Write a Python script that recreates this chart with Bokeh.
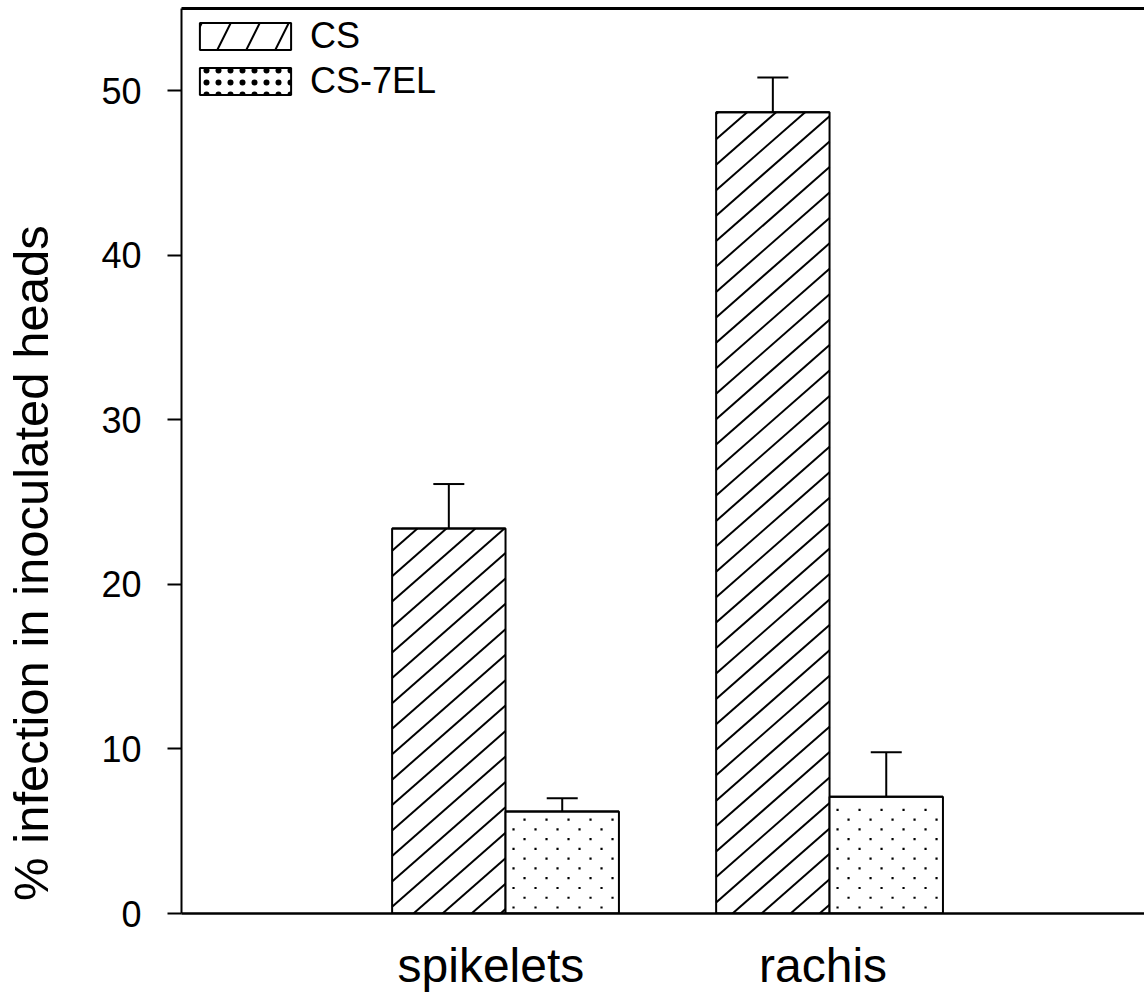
import math
from bokeh.plotting import figure
from bokeh.models import (ColumnDataSource, Range1d, FixedTicker, LinearAxis, Whisker,
                          TeeHead, Legend, LegendItem)
from bokeh.embed import file_html
from bokeh.resources import INLINE

# ---- data ----
categories = ["spikelets", "rachis"]
cs_values = [23.4, 48.7]
cs_errors = [2.7, 2.1]
cs7el_values = [6.2, 7.1]
cs7el_errors = [0.8, 2.7]
series_names = ["CS", "CS-7EL"]
y_ticks = [0, 10, 20, 30, 40, 50]
y_label = "% infection in inoculated heads"

FONT = "Liberation Sans"
bar_w = 0.35
group_x = [i + 1 for i in range(len(categories))]
label_shift = [-0.045, -0.02]

# ---- layout ----
W, H = 1144, 994
B_LEFT, B_RIGHT, B_TOP, B_BOTTOM = 181, 0, 8, 78
X_END, Y_END = 2.972, 55
px_per_x = (W - B_LEFT - B_RIGHT) / X_END
px_per_y = (H - B_TOP - B_BOTTOM) / Y_END

src_cs = ColumnDataSource(dict(
    x=[g - bar_w / 2 for g in group_x], top=cs_values,
    upper=[v + e for v, e in zip(cs_values, cs_errors)]))
src_el = ColumnDataSource(dict(
    x=[g + bar_w / 2 for g in group_x], top=cs7el_values,
    upper=[v + e for v, e in zip(cs7el_values, cs7el_errors)]))

# shallow "/" hatching of the CS bars, derived from the bar geometry
hatch_period = 29 / px_per_x                # horizontal spacing (data units)
hatch_slope = 0.88 * px_per_x / px_per_y    # rising to the right, ~41 degrees on screen
hx0, hy0, hx1, hy1 = [], [], [], []
for xc, top in zip(src_cs.data["x"], cs_values):
    x0, x1 = xc - bar_w / 2, xc + bar_w / 2
    k0 = math.floor((x0 - top / hatch_slope) / hatch_period) - 1
    k1 = math.ceil(x1 / hatch_period) + 1
    for k in range(k0, k1 + 1):
        c = k * hatch_period
        xs = max(x0, c)
        xe = min(x1, c + top / hatch_slope)
        if xe - xs > 1e-9:
            hx0.append(xs); hy0.append(hatch_slope * (xs - c))
            hx1.append(xe); hy1.append(hatch_slope * (xe - c))
src_hatch = ColumnDataSource(dict(x0=hx0, y0=hy0, x1=hx1, y1=hy1))

# staggered dot stipple of the CS-7EL bars, derived from the bar geometry
dx_list, dy_list = [], []
for xc, top in zip(src_el.data["x"], cs7el_values):
    x0 = xc - bar_w / 2
    w_px = bar_w * px_per_x
    h_px = top * px_per_y
    r = 0
    ypx = 6.0
    while ypx < h_px - 4:
        xpx = 8.0 + (r % 2) * 11
        while xpx < w_px - 4:
            dx_list.append(x0 + xpx / px_per_x)
            dy_list.append(ypx / px_per_y)
            xpx += 22
        ypx += 9.8
        r += 1
src_dots = ColumnDataSource(dict(x=dx_list, y=dy_list))

p = figure(width=W, height=H, output_backend="svg", toolbar_location=None,
           x_range=Range1d(0, X_END), y_range=Range1d(0, Y_END),
           min_border_left=B_LEFT, min_border_right=B_RIGHT,
           min_border_top=B_TOP, min_border_bottom=B_BOTTOM)
p.outline_line_color = None
p.grid.visible = False

p.vbar(x="x", top="top", bottom=0, width=bar_w, source=src_cs,
       fill_color="white", line_color=None)
p.segment(x0="x0", y0="y0", x1="x1", y1="y1", source=src_hatch,
          line_color="black", line_width=2)
p.vbar(x="x", top="top", bottom=0, width=bar_w, source=src_cs,
       fill_color=None, line_color="black", line_width=2)

p.vbar(x="x", top="top", bottom=0, width=bar_w, source=src_el,
       fill_color="white", line_color="black", line_width=2)
p.scatter(x="x", y="y", source=src_dots, marker="square", size=2.2,
          fill_color="black", line_color=None)

# zero-height copies of the bars: invisible in the plot, used as legend swatches
r_cs_leg = p.vbar(x="x", top="top", bottom="top", width=bar_w, source=src_cs,
                  fill_color="white", line_color="black", line_width=2,
                  hatch_pattern="/", hatch_color="black", hatch_scale=58, hatch_weight=2)
r_el_leg = p.vbar(x="x", top="top", bottom="top", width=bar_w, source=src_el,
                  fill_color="white", line_color="black", line_width=2,
                  hatch_pattern=".", hatch_color="black", hatch_scale=12, hatch_weight=1)

for src in (src_cs, src_el):
    w = Whisker(base="x", lower="top", upper="upper", source=src, dimension="height",
                line_color="black", line_width=2,
                upper_head=TeeHead(size=31, line_width=2, line_color="black"),
                lower_head=None, level="underlay")
    p.add_layout(w)

# y axis
ya = p.yaxis[0]
ya.ticker = FixedTicker(ticks=y_ticks)
ya.axis_label = y_label + "\u00a0" * 15
ya.axis_label_text_font = FONT
ya.axis_label_text_font_size = "49px"
ya.axis_label_text_font_style = "normal"
ya.axis_label_text_color = "black"
ya.axis_label_standoff = 40
ya.major_label_text_font = FONT
ya.major_label_text_font_size = "36px"
ya.major_label_text_color = "black"
ya.major_label_standoff = 26
ya.major_tick_out = 14
ya.major_tick_in = 0
ya.major_tick_line_width = 2
ya.minor_tick_line_color = None
ya.axis_line_width = 2

# x axis
xa = p.xaxis[0]
label_pos = [g + s for g, s in zip(group_x, label_shift)]
xa.ticker = FixedTicker(ticks=label_pos)
xa.major_label_overrides = {pos: c for pos, c in zip(label_pos, categories)}
xa.major_label_text_font = FONT
xa.major_label_text_font_size = "48px"
xa.major_label_text_color = "black"
xa.major_label_standoff = 19
xa.major_tick_line_color = None
xa.minor_tick_line_color = None
xa.axis_line_width = 2.5

# top border line
top_axis = LinearAxis(ticker=FixedTicker(ticks=[]), major_tick_out=0, major_tick_in=0,
                      major_label_standoff=0, minor_tick_line_color=None,
                      major_tick_line_color=None, axis_line_width=3)
p.add_layout(top_axis, "above")

legend = Legend(items=[LegendItem(label=series_names[0], renderers=[r_cs_leg]),
                       LegendItem(label=series_names[1], renderers=[r_el_leg])],
                location="top_left", margin=7, padding=0, spacing=3,
                glyph_width=114, glyph_height=34, label_height=34, label_standoff=8,
                label_text_font=FONT, label_text_font_size="36px",
                label_text_color="black",
                border_line_color=None, background_fill_alpha=0)
p.add_layout(legend)

open("out.html", "w").write(file_html(p, INLINE))
